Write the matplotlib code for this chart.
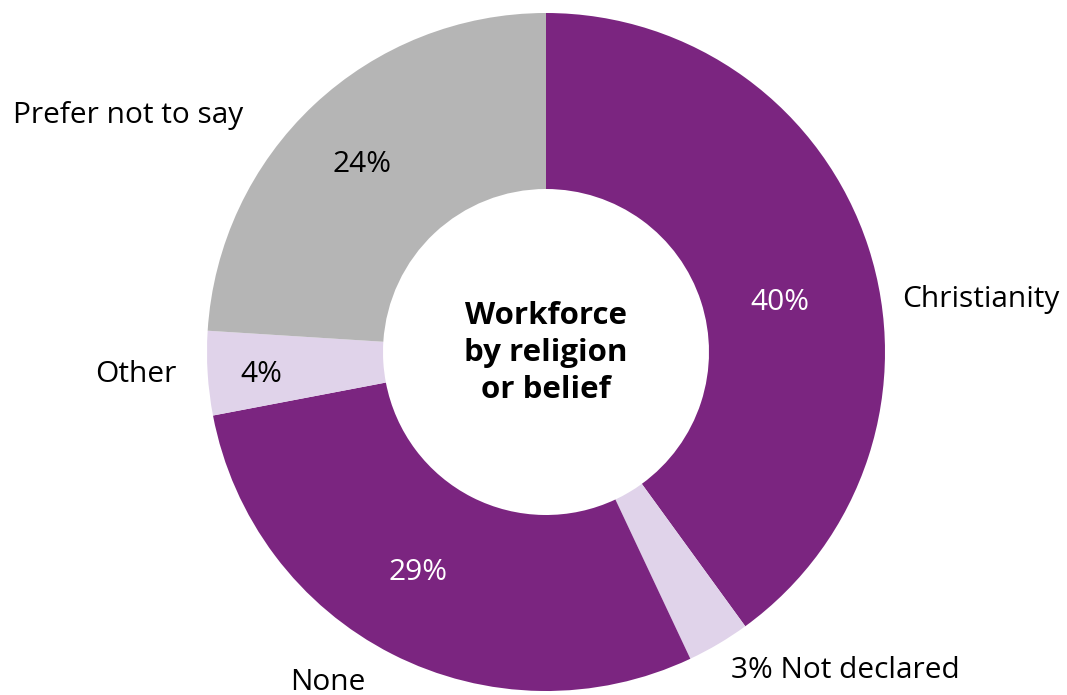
import matplotlib
matplotlib.use("Agg")
import matplotlib.pyplot as plt

plt.rcParams['font.family'] = ['Open Sans', 'DejaVu Sans']

categories = ["Christianity", "Not declared", "None", "Other", "Prefer not to say"]
values = [40, 3, 29, 4, 24]
colors = ["#7B2580", "#E0D3EA", "#7B2580", "#E0D3EA", "#B5B5B5"]
pct_colors = ["white", "black", "white", "black", "black"]

W, H = 1067, 695
fig = plt.figure(figsize=(W / 100, H / 100), dpi=100)
ax = fig.add_axes([0, 0, 1, 1])

cx, cy = 546, H - 352
R = 339
ax.pie(values, colors=colors, startangle=90, counterclock=False,
       radius=R, center=(cx, cy), frame=True,
       wedgeprops=dict(width=R - 163, linewidth=0))
ax.set_xlim(0, W)
ax.set_ylim(0, H)
ax.set_aspect("equal")
ax.axis("off")

fs = 21.5
# percentage labels inside the ring
pct_pos = [(780, 302), None, (418, 572), (261, 374), (362, 165)]
for v, pos, c in zip(values, pct_pos, pct_colors):
    if pos is None:
        continue
    ax.text(pos[0], H - pos[1], f"{v}%", color=c, fontsize=fs,
            ha="center", va="center")

# category labels outside the ring
ax.text(981, H - 299, "Christianity", fontsize=fs, ha="center", va="center")
ax.text(845, H - 670, f"{values[1]}% Not declared", fontsize=fs, ha="center", va="center")
ax.text(328, H - 682, "None", fontsize=fs, ha="center", va="center")
ax.text(136, H - 375, "Other", fontsize=fs, ha="center", va="center")
ax.text(128, H - 115, "Prefer not to say", fontsize=fs, ha="center", va="center")

ax.text(cx, cy - 1, "Workforce\nby religion\nor belief", fontsize=22.5,
        fontweight="bold", ha="center", va="center", linespacing=1.3)

fig.savefig("out.png", dpi=100)
